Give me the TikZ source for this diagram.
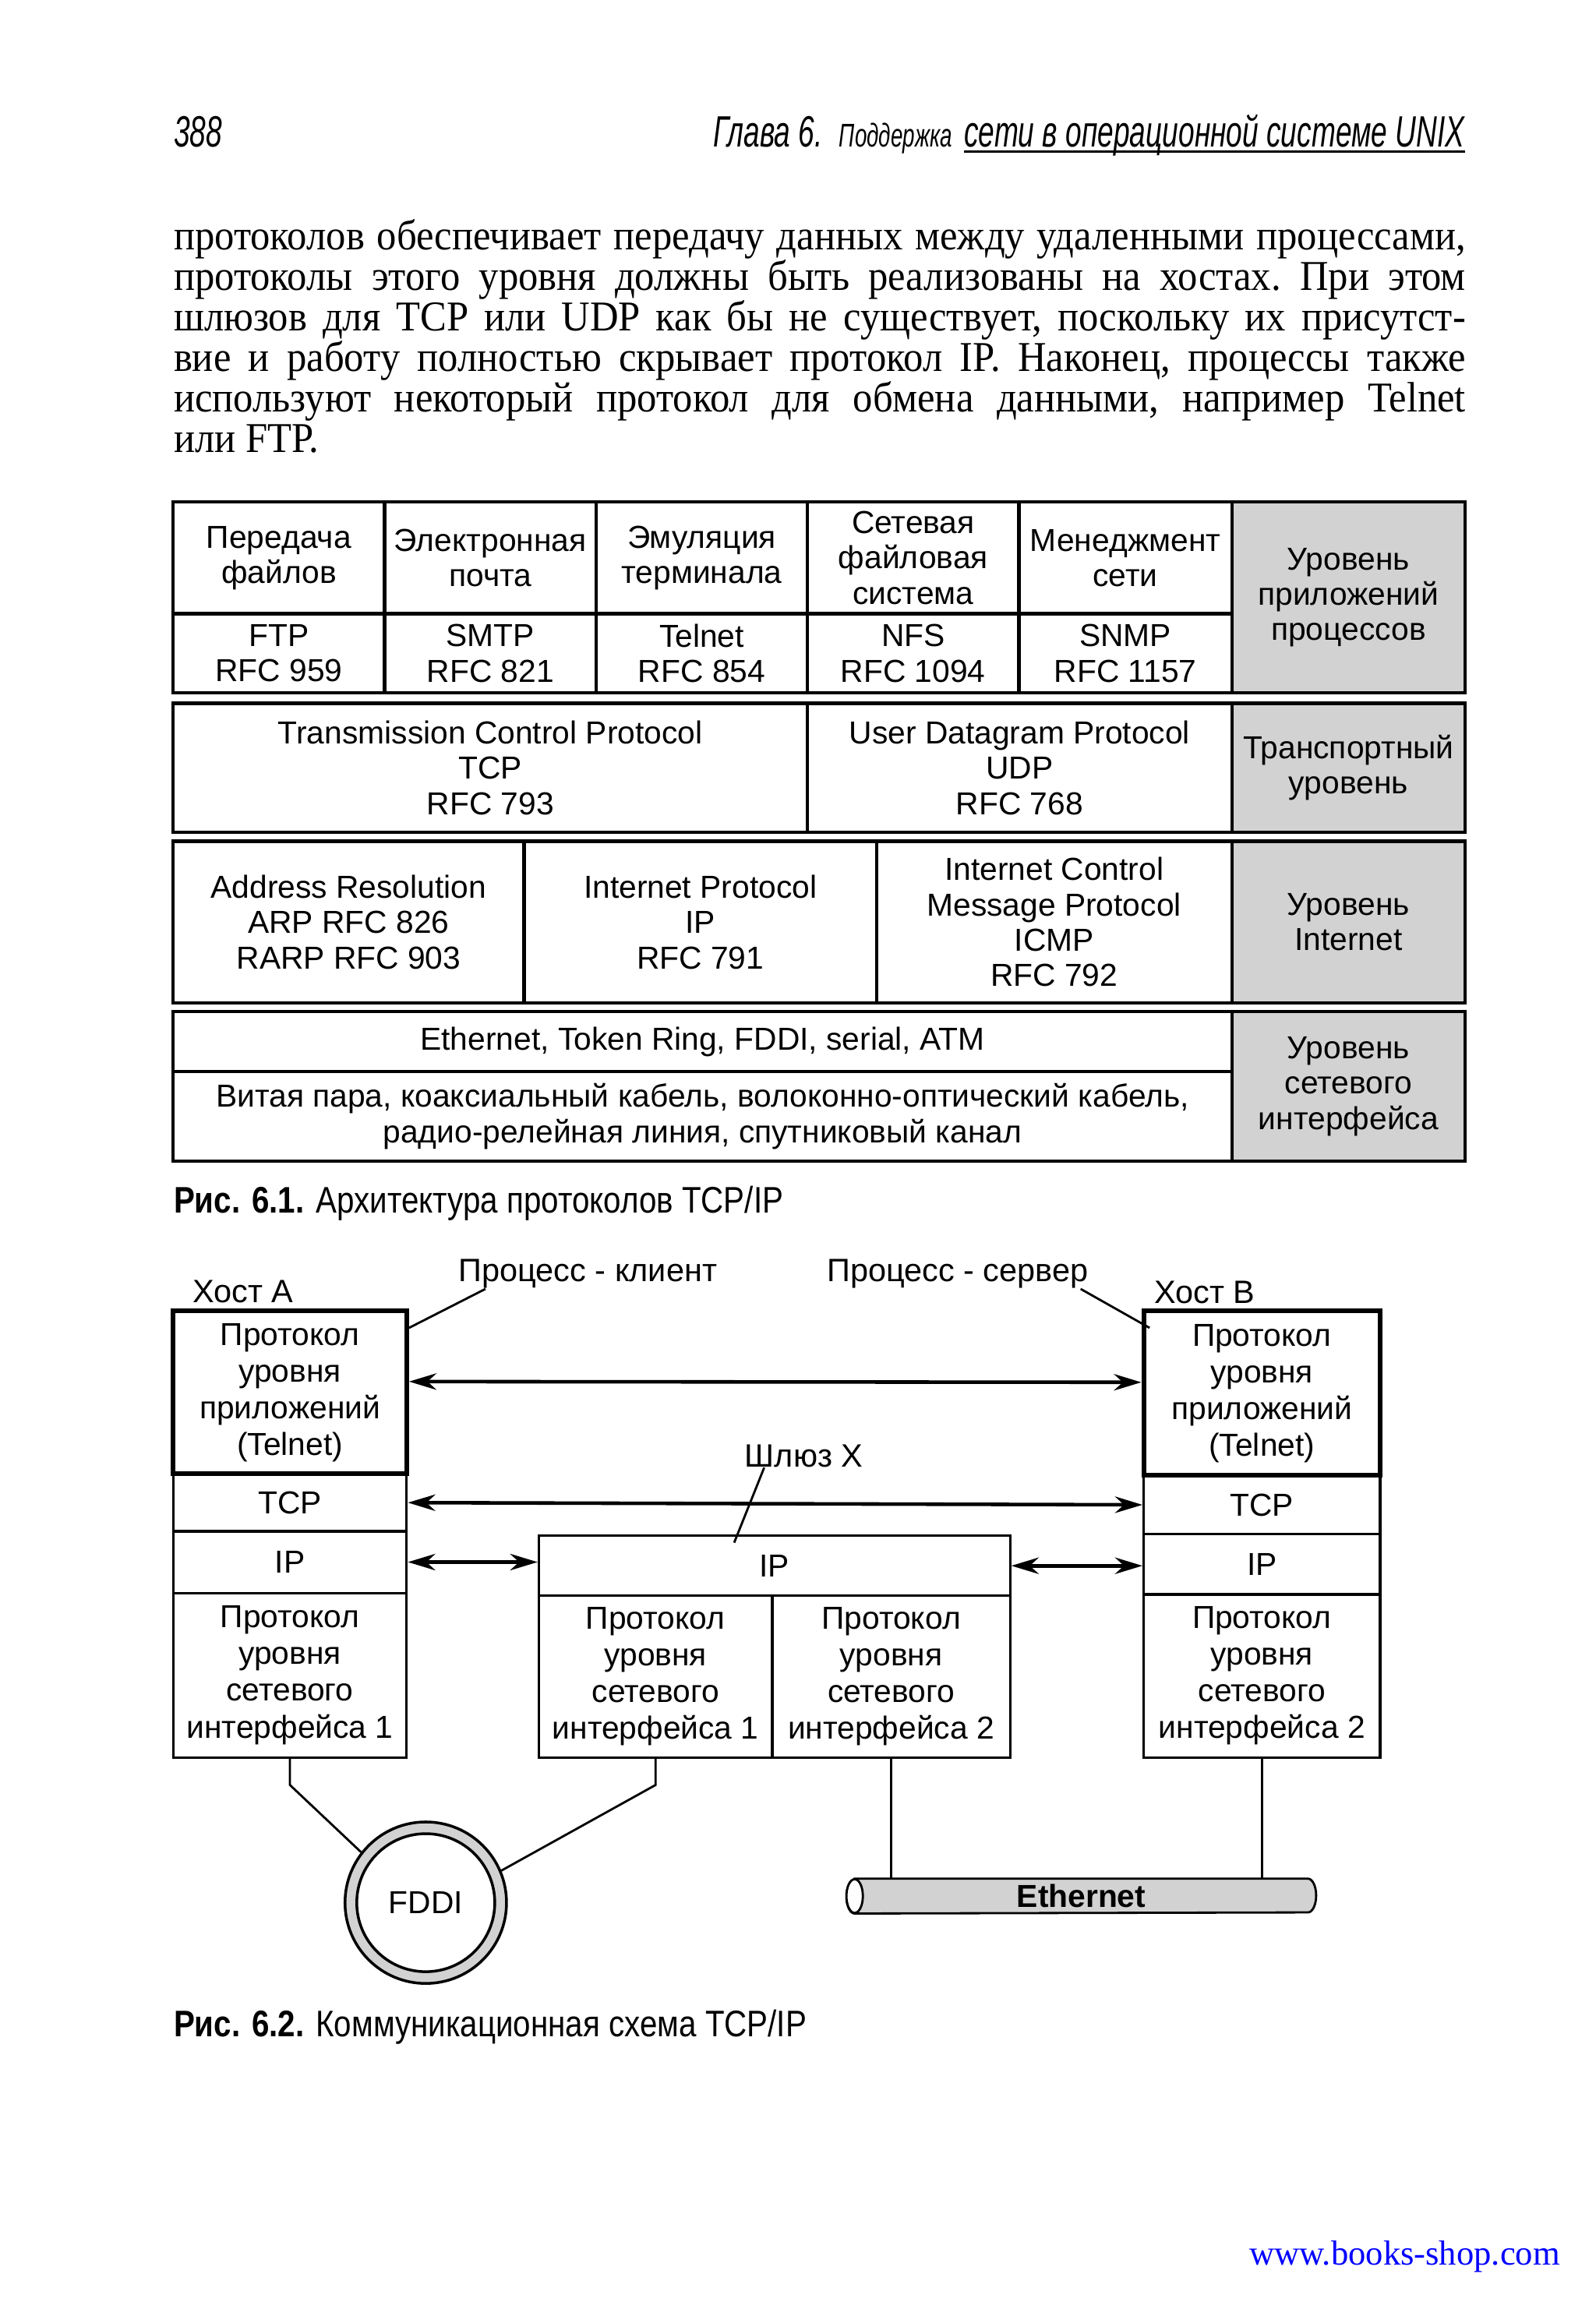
\documentclass[tikz,border=0pt]{standalone}
\usepackage{fontspec}
\setmainfont{Liberation Serif}
\newfontfamily\bodyf[FakeStretch=0.93]{Liberation Serif}
\newfontfamily\sansf{Liberation Sans}
\newfontfamily\narrowf[FakeStretch=0.85]{Liberation Sans}
\newfontfamily\headf[FakeStretch=0.66]{Liberation Sans}
\usetikzlibrary{arrows.meta}
\newdimen\pxu \pxu=0.1884mm
\newcommand\cellbox[7][]{\node[cell,#1,minimum width={(#5-#3)*\pxu},minimum height={(#6-#4)*\pxu}] (#2) at ({(#3+#5)/2},{(#4+#6)/2}) {#7};}
\tikzset{
  cell/.style={draw,line width=1.2pt,inner sep=0pt,align=center,font=\sansf\fontsize{11.6}{12.9}\selectfont},
  level/.style={fill=gray!35},
  stack/.style={line width=0.9pt,font=\sansf\fontsize{11.6}{13.4}\selectfont},
  stackapp/.style={stack,line width=1.7pt},
  link/.style={{Stealth[length=10pt,width=6pt]}-{Stealth[length=10pt,width=6pt]},line width=1.3pt},
  wire/.style={line width=0.8pt},
  label/.style={inner sep=0pt,font=\sansf\fontsize{11.8}{13}\selectfont},
  caption/.style={inner sep=0pt,font=\narrowf\fontsize{13.5}{15}\selectfont},
  header/.style={inner sep=0pt,font=\headf\itshape\fontsize{16}{17}\selectfont}
}
\begin{document}
\begin{tikzpicture}[x=0.1884mm,y=-0.1884mm]
\fill[white] (0,0) rectangle (1087,1568);
\useasboundingbox (0,0) rectangle (1087,1568);
\node[header,anchor=base west] (pagenum) at (118,100) {388};
\node[header,anchor=base east] (runheadb) at (998,100) {сети в операционной системе UNIX};
\node[header,anchor=base east] (runheada) at (runheadb.base west) {Глава 6.\kern6pt{\fontsize{12}{14}\selectfont Поддержка}\kern4pt};
\draw[line width=0.8pt] ([yshift=-1.8pt]runheadb.base west) -- ([yshift=-1.8pt]runheadb.base east);
\node[anchor=base west,inner sep=0pt,text width=165.8mm,align=justify,font=\bodyf\fontsize{15.5}{14.8}\selectfont\frenchspacing] (para) at (118,170)
  {протоколов обеспечивает передачу данных между удаленными процессами,\linebreak
   протоколы этого уровня должны быть реализованы на хостах. При этом\linebreak
   шлюзов для TCP или UDP как бы не существует, поскольку их присутст-\linebreak
   вие и работу полностью скрывает протокол IP. Наконец, процессы также\linebreak
   используют некоторый протокол для обмена данными, например Telnet\linebreak
   или FTP.};
\cellbox{fxfer}{118}{342}{262}{418}{Передача\\файлов}
\cellbox{email}{262}{342}{406}{418}{Электронная\\почта}
\cellbox{termemu}{406}{342}{550}{418}{Эмуляция\\терминала}
\cellbox{netfs}{550}{342}{694}{418}{Сетевая\\файловая\\система}
\cellbox{netmgmt}{694}{342}{839}{418}{Менеджмент\\сети}
\cellbox{ftp}{118}{418}{262}{472}{FTP\\RFC 959}
\cellbox{smtp}{262}{418}{406}{472}{SMTP\\RFC 821}
\cellbox{telnet}{406}{418}{550}{472}{Telnet\\RFC 854}
\cellbox{nfs}{550}{418}{694}{472}{NFS\\RFC 1094}
\cellbox{snmp}{694}{418}{839}{472}{SNMP\\RFC 1157}
\cellbox[level]{lvlapp}{839}{342}{998}{472}{Уровень\\приложений\\процессов}
\cellbox{tcp}{118}{479}{550}{567}{Transmission Control Protocol\\TCP\\RFC 793}
\cellbox{udp}{550}{479}{839}{567}{User Datagram Protocol\\UDP\\RFC 768}
\cellbox[level]{lvltr}{839}{479}{998}{567}{Транспортный\\уровень}
\cellbox{arp}{118}{573}{357}{683}{Address Resolution\\ARP RFC 826\\RARP RFC 903}
\cellbox{ip}{357}{573}{597}{683}{Internet Protocol\\IP\\RFC 791}
\cellbox{icmp}{597}{573}{839}{683}{Internet Control\\Message Protocol\\ICMP\\RFC 792}
\cellbox[level]{lvlint}{839}{573}{998}{683}{Уровень\\Internet}
\cellbox{links}{118}{689}{839}{730}{Ethernet, Token Ring, FDDI, serial, ATM}
\cellbox{media}{118}{730}{839}{791}{Витая пара, коаксиальный кабель, волоконно-оптический кабель,\\радио-релейная линия, спутниковый канал}
\cellbox[level]{lvlnet}{839}{689}{998}{791}{Уровень\\сетевого\\интерфейса}
\node[caption,anchor=base west] (capa) at (118,826) {\textbf{Рис. 6.1.} Архитектура протоколов TCP/IP};
\node[label,anchor=base west] (hosta) at (131,887) {Хост А};
\node[label,anchor=base west] (hostb) at (786,888) {Хост В};
\node[label,anchor=base west] (client) at (312,873) {Процесс - клиент};
\node[label,anchor=base west] (server) at (563,873) {Процесс - сервер};
\node[label,anchor=base west] (gwname) at (507,999) {Шлюз X};
\cellbox[stackapp]{appA}{118}{893}{277}{1004}{Протокол\\уровня\\приложений\\(Telnet)}
\cellbox[stack]{tcpA}{118}{1004}{277}{1043}{TCP}
\cellbox[stack]{ipA}{118}{1043}{277}{1085}{IP}
\cellbox[stack]{netA}{118}{1085}{277}{1197}{Протокол\\уровня\\сетевого\\интерфейса 1}
\cellbox[stackapp]{appB}{779}{893}{940}{1005}{Протокол\\уровня\\приложений\\(Telnet)}
\cellbox[stack]{tcpB}{779}{1005}{940}{1045}{TCP}
\cellbox[stack]{ipB}{779}{1045}{940}{1086}{IP}
\cellbox[stack]{netB}{779}{1086}{940}{1197}{Протокол\\уровня\\сетевого\\интерфейса 2}
\cellbox[stack]{gwip}{367}{1046}{688}{1087}{IP}
\cellbox[stack]{gwnetA}{367}{1087}{526}{1197}{Протокол\\уровня\\сетевого\\интерфейса 1}
\cellbox[stack]{gwnetB}{526}{1087}{688}{1197}{Протокол\\уровня\\сетевого\\интерфейса 2}
\draw[link] ([yshift=4pt]appA.east) -- ([yshift=4pt]appB.west);
\draw[link] (tcpA.east) -- (tcpB.west);
\draw[link] (ipA.east) -- (ipA.east -| gwip.west);
\draw[link] (gwip.east) -- (gwip.east -| ipB.west);
\draw[wire] ([xshift=10pt]client.south west) -- ([yshift=-7pt]appA.north east);
\draw[wire] ([xshift=-3pt]server.south east) -- ([yshift=-7pt,xshift=3pt]appB.north west);
\draw[wire] ([xshift=-14.5pt]gwname.south) -- ([xshift=-14.7pt,yshift=-3pt]gwip.north);
\node[circle,draw,line width=1pt,fill=gray!35,minimum size={110*\pxu}] (ring) at (290,1296) {};
\node[circle,draw,line width=1pt,fill=white,minimum size={94*\pxu},font=\sansf\fontsize{11.6}{13}\selectfont] (fddi) at (ring) {FDDI};
\draw[wire] (netA.south) -- ++(0,18) -- (ring.142);
\draw[wire] (gwnetA.south) -- ++(0,18) -- (ring.23);
\node[inner sep=0pt,minimum width={308*\pxu},minimum height={23*\pxu}] (eth) at (736.5,1291.5) {};
\draw[wire,fill=gray!35] (eth.north west) -- (eth.north east) arc[start angle=90,end angle=-90,x radius=3pt,y radius=6.16pt] -- (eth.south west) arc[start angle=270,end angle=90,x radius=3pt,y radius=6.16pt] -- cycle;
\draw[wire,fill=white] (eth.west) ellipse[x radius=3pt,y radius=6.16pt];
\node[inner sep=0pt,font=\sansf\bfseries\fontsize{11.6}{13}\selectfont] (ethname) at (eth) {Ethernet};
\draw[wire] (gwnetB.south) -- (gwnetB.south |- eth.north);
\draw[wire] (netB.south) -- (netB.south |- eth.north);
\node[caption,anchor=base west] (capb) at (118,1387) {\textbf{Рис. 6.2.} Коммуникационная схема TCP/IP};
\node[anchor=base east,inner sep=0pt,text=blue,font=\fontsize{12.7}{14}\selectfont] (url) at (1063,1543) {www.books-shop.com};
\end{tikzpicture}
\end{document}
